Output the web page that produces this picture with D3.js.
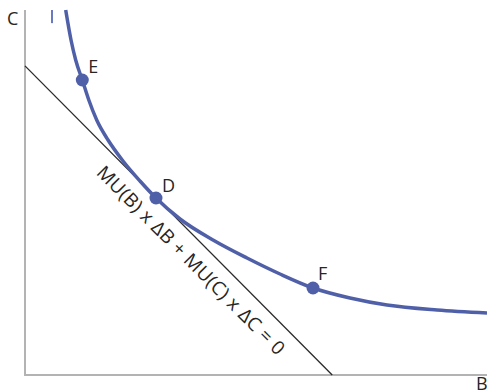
<!DOCTYPE html>
<html>
<head>
<meta charset="utf-8">
<script src="https://cdn.jsdelivr.net/npm/d3@7"></script>
<style>
  html, body { margin: 0; padding: 0; background: #fff; }
  svg { display: block; }
  text { font-family: "Open Sans", "Noto Sans", sans-serif; fill: #262626; }
</style>
</head>
<body>
<svg id="chart" width="487" height="392"></svg>
<script>
// ---- data (B on x, C on y, both 0..100) ----
const curveB = [8.81, 9.96, 10.97, 12.40, 13.81, 15.52, 17.97, 21.21, 24.89, 28.35,
                33.55, 40.69, 48.05, 55.19, 62.34, 70.35, 78.35, 89.18, 100];
const curveC = [100.0, 91.78, 86.30, 80.82, 75.34, 69.86, 64.38, 58.63, 53.15, 48.49,
                42.74, 36.99, 32.05, 27.67, 23.84, 21.10, 19.18, 17.81, 16.99];
const pointNames = ["E", "D", "F"];
const pointB = [12.4, 28.35, 62.34];
const pointC = [80.82, 48.49, 23.84];
const tangentB = [0, 66.5];
const tangentC = [84.7, 0];
const tickB = [5.85, 5.85];
const tickC = [100, 96.4];
const axisLabels = ["B", "C"];
const formula = "MU(B) x \u0394B + MU(C) x \u0394C = 0";

const svg = d3.select("#chart");
const x = d3.scaleLinear().domain([0, 100]).range([25, 487]);
const y = d3.scaleLinear().domain([0, 100]).range([375, 10]);

const blue = "#5060a8";

// axes
svg.append("line").attr("x1", x(0)).attr("x2", x(0)).attr("y1", y(100)).attr("y2", y(0) + 1)
  .attr("stroke", "#b3b3b3").attr("stroke-width", 2);
svg.append("line").attr("x1", x(0) - 1).attr("x2", x(100)).attr("y1", y(0)).attr("y2", y(0))
  .attr("stroke", "#b3b3b3").attr("stroke-width", 2);

svg.append("text").attr("x", 7).attr("y", 25).attr("font-size", 18).text(axisLabels[1]);
svg.append("text").attr("x", 476).attr("y", 390).attr("font-size", 18).text(axisLabels[0]);

// small tick
svg.append("line").attr("x1", x(tickB[0])).attr("x2", x(tickB[1]))
  .attr("y1", y(tickC[0])).attr("y2", y(tickC[1]))
  .attr("stroke", "#6b79c2").attr("stroke-width", 2);

// tangent line
svg.append("line").attr("x1", x(tangentB[0])).attr("y1", y(tangentC[0]))
  .attr("x2", x(tangentB[1])).attr("y2", y(tangentC[1]))
  .attr("stroke", "#2a2a2a").attr("stroke-width", 1.3);

// formula label along the tangent line
const x1 = x(tangentB[0]), y1 = y(tangentC[0]), x2 = x(tangentB[1]), y2 = y(tangentC[1]);
const len = Math.hypot(x2 - x1, y2 - y1);
const ux = (x2 - x1) / len, uy = (y2 - y1) / len;
const ang = Math.atan2(uy, ux) * 180 / Math.PI;
const along = 255, off = 26;
const nx = uy, ny = -ux; // normal toward upper-right
const tx = x1 + ux * along - nx * off;
const ty = y1 + uy * along - ny * off;
svg.append("text")
  .attr("transform", `translate(${tx},${ty}) rotate(${ang})`)
  .attr("text-anchor", "middle")
  .attr("font-size", 19)
  .attr("letter-spacing", 0.4)
  .text(formula);

// curve
const pts = curveB.map((b, i) => [x(b), y(curveC[i])]);
svg.append("path")
  .attr("d", d3.line().curve(d3.curveMonotoneX)(pts))
  .attr("fill", "none").attr("stroke", blue).attr("stroke-width", 3.5);

// points
svg.selectAll("circle.pt").data(pointNames).join("circle")
  .attr("class", "pt")
  .attr("cx", (d, i) => x(pointB[i])).attr("cy", (d, i) => y(pointC[i]))
  .attr("r", 6.5).attr("fill", blue);

const labelDx = [6, 6, 5], labelDy = [-7, -6, -8];
svg.selectAll("text.pl").data(pointNames).join("text")
  .attr("class", "pl")
  .attr("x", (d, i) => x(pointB[i]) + labelDx[i])
  .attr("y", (d, i) => y(pointC[i]) + labelDy[i])
  .attr("font-size", 18)
  .text(d => d);
</script>
</body>
</html>
